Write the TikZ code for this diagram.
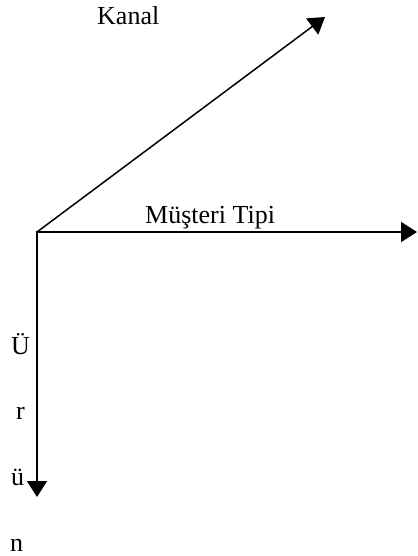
\documentclass[tikz,border=0pt]{standalone}
\usepackage{fontspec}
\setmainfont{Liberation Serif}
\usetikzlibrary{arrows.meta}

\begin{document}
\begin{tikzpicture}[
  x=1pt, y=-1pt,
  font=\fontsize{26}{30}\selectfont,
  axis/.style={-{Triangle[length=16pt, width=20pt]}, line width=1.5pt, line cap=rect},
  lbl/.style={anchor=base west, inner sep=0pt}]
\useasboundingbox (0,0) rectangle (417,556);
\coordinate (o) at (37,232);
\coordinate (kanal) at (325,17);
\coordinate (musteri) at (417,232);
\coordinate (urun) at (37,497);
\draw[axis] (o) -- (kanal);
\draw[axis] (o) -- (musteri);
\draw[axis] (o) -- (urun);
\node[lbl] (kanallbl) at (97,25) {Kanal};
\node[lbl] (tiplbl) at (145,223) {Müşteri Tipi};
% vertical axis label, one letter per line
\foreach \ch/\xx/\yy [count=\i] in {Ü/11/354, r/16/419, ü/11/485, n/10/551}
  \node[lbl] (urun\i) at (\xx,\yy) {\ch};
\end{tikzpicture}
\end{document}
